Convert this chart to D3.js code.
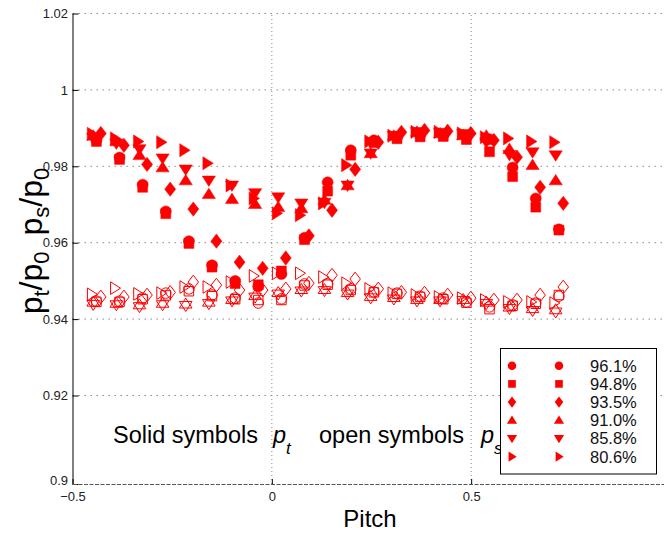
<!DOCTYPE html>
<html>
<head>
<meta charset="utf-8">
<script src="https://cdn.jsdelivr.net/npm/d3@7"></script>
<style>
  html, body { margin: 0; padding: 0; background: #fff; }
  svg { display: block; font-family: "Liberation Sans", Arial, Helvetica, sans-serif; }
</style>
</head>
<body>
<svg id="chart" width="664" height="536"></svg>
<script>
// Measurement stations along the pitch
const pitch = [-0.44, -0.382, -0.324, -0.266, -0.208, -0.15, -0.092, -0.034, 0.024, 0.082,
               0.14, 0.198, 0.256, 0.314, 0.372, 0.43, 0.488, 0.546, 0.604, 0.662, 0.72];

// Operating points (legend) and their marker shapes
const speeds = ["96.1%", "94.8%", "93.5%", "91.0%", "85.8%", "80.6%"];
const shapes = ["circle", "square", "diamond", "triangle-up", "triangle-down", "triangle-right"];
// small pitch offset of each traverse
const pitchShift = [0, 0, 0.011, -0.008, -0.008, -0.012];

// Total pressure ratio p_t/p_0 (solid symbols)
const ptCircle   = [0.9868, 0.9823, 0.9752, 0.9682, 0.9604, 0.9541, 0.9500, 0.9486, 0.9518, 0.9613, 0.9758,
                    0.9842, 0.9868, 0.9876, 0.9881, 0.9881, 0.9876, 0.9871, 0.9797, 0.9716, 0.9635];
const ptSquare   = [0.9865, 0.9818, 0.9745, 0.9676, 0.9598, 0.9536, 0.9493, 0.9490, 0.9526, 0.9608, 0.9735,
                    0.9829, 0.9862, 0.9872, 0.9877, 0.9878, 0.9870, 0.9838, 0.9773, 0.9693, 0.9633];
const ptDiamond  = [0.9886, 0.9855, 0.9805, 0.9740, 0.9688, 0.9604, 0.9549, 0.9533, 0.9560, 0.9618, 0.9685,
                    0.9792, 0.9863, 0.9889, 0.9894, 0.9892, 0.9886, 0.9868, 0.9824, 0.9745, 0.9703];
const ptUp       = [0.9880, 0.9865, 0.9829, 0.9797, 0.9763, 0.9727, 0.9714, 0.9701, 0.9693, 0.9690, 0.9712,
                    0.9750, 0.9834, 0.9880, 0.9890, 0.9886, 0.9881, 0.9880, 0.9845, 0.9803, 0.9763];
const ptDown     = [0.9875, 0.9860, 0.9845, 0.9821, 0.9792, 0.9763, 0.9750, 0.9730, 0.9719, 0.9703, 0.9705,
                    0.9750, 0.9834, 0.9880, 0.9890, 0.9888, 0.9885, 0.9863, 0.9830, 0.9837, 0.9829];
const ptRight    = [0.9885, 0.9873, 0.9865, 0.9863, 0.9842, 0.9808, 0.9750, 0.9716, 0.9677, 0.9672, 0.9703,
                    0.9803, 0.9865, 0.9880, 0.9890, 0.9890, 0.9886, 0.9876, 0.9873, 0.9865, 0.9863];

// Static pressure ratio p_s/p_0 (open symbols)
const psCircle   = [0.9447, 0.9447, 0.9455, 0.9468, 0.9479, 0.9463, 0.9455, 0.9442, 0.9453, 0.9492, 0.9492,
                    0.9479, 0.9471, 0.9468, 0.9460, 0.9455, 0.9445, 0.9432, 0.9437, 0.9442, 0.9460];
const psSquare   = [0.9445, 0.9445, 0.9452, 0.9462, 0.9473, 0.9460, 0.9452, 0.9450, 0.9450, 0.9488, 0.9490,
                    0.9476, 0.9470, 0.9466, 0.9458, 0.9452, 0.9443, 0.9426, 0.9435, 0.9440, 0.9463];
const psDiamond  = [0.9458, 0.9458, 0.9463, 0.9470, 0.9497, 0.9489, 0.9476, 0.9476, 0.9479, 0.9494, 0.9515,
                    0.9505, 0.9479, 0.9470, 0.9468, 0.9463, 0.9455, 0.9450, 0.9450, 0.9463, 0.9484];
const psUp       = [0.9445, 0.9442, 0.9438, 0.9442, 0.9440, 0.9445, 0.9452, 0.9462, 0.9470, 0.9478, 0.9478,
                    0.9470, 0.9460, 0.9457, 0.9452, 0.9452, 0.9452, 0.9445, 0.9432, 0.9428, 0.9425];
const psDown     = [0.9438, 0.9437, 0.9432, 0.9437, 0.9435, 0.9440, 0.9447, 0.9457, 0.9465, 0.9473, 0.9474,
                    0.9465, 0.9455, 0.9452, 0.9447, 0.9447, 0.9448, 0.9440, 0.9427, 0.9422, 0.9418];
const psRight    = [0.9465, 0.9481, 0.9466, 0.9468, 0.9484, 0.9484, 0.9497, 0.9513, 0.9520, 0.9520, 0.9510,
                    0.9494, 0.9479, 0.9468, 0.9463, 0.9458, 0.9455, 0.9450, 0.9445, 0.9445, 0.9442];

const xTicks = [-0.5, 0, 0.5];
const yTicks = [0.9, 0.92, 0.94, 0.96, 0.98, 1, 1.02];

const ptSeries = [ptCircle, ptSquare, ptDiamond, ptUp, ptDown, ptRight];
const psSeries = [psCircle, psSquare, psDiamond, psUp, psDown, psRight];

const RED = "#ff0000";
const svg = d3.select("#chart");

const x = d3.scaleLinear().domain([-0.5, 1]).range([72.5, 670.5]);
const y = d3.scaleLinear().domain([0.9, 0.92, 1.02]).range([484, 395.5, 13.5]);

// marker outlines, k scales the size
function shapePath(shape, k) {
  switch (shape) {
    case "circle": {
      const r = 5 * k;
      return `M${r},0A${r},${r} 0 1,1 ${-r},0A${r},${r} 0 1,1 ${r},0Z`;
    }
    case "square": {
      const h = 4.5 * k;
      return `M${-h},${-h}H${h}V${h}H${-h}Z`;
    }
    case "diamond": {
      const w = 5 * k, h = 6.5 * k;
      return `M0,${-h}L${w},0L0,${h}L${-w},0Z`;
    }
    case "triangle-up":
      return `M0,${-5.5 * k}L${6 * k},${4 * k}L${-6 * k},${4 * k}Z`;
    case "triangle-down":
      return `M0,${5.5 * k}L${6 * k},${-4 * k}L${-6 * k},${-4 * k}Z`;
    case "triangle-right":
      return `M${5.5 * k},0L${-4 * k},${6 * k}L${-4 * k},${-6 * k}Z`;
  }
}

// grid
const grid = svg.append("g");
grid.selectAll("line.h").data(yTicks.filter(v => v > 0.9)).join("line")
  .attr("x1", x(-0.5)).attr("x2", 664)
  .attr("y1", d => y(d)).attr("y2", d => y(d))
  .attr("stroke", "#8a8a8a").attr("stroke-width", 1).attr("stroke-dasharray", "1.5,4.5");
grid.selectAll("line.v").data(xTicks.filter(v => v > -0.5)).join("line")
  .attr("x1", d => x(d)).attr("x2", d => x(d))
  .attr("y1", y(0.9)).attr("y2", y(1.02))
  .attr("stroke", "#8a8a8a").attr("stroke-width", 1).attr("stroke-dasharray", "1,3");

// axes
const fmt = d => String(+d.toFixed(2));
const yAxis = svg.append("g").attr("transform", `translate(${x(-0.5)},0)`)
  .call(d3.axisLeft(y).tickValues(yTicks).tickFormat(fmt).tickSize(-6).tickSizeOuter(0).tickPadding(4.5));
yAxis.selectAll("text").attr("font-size", 13).attr("fill", "#222").attr("font-family", null);
// lift the bottom label a little so it clears the pitch labels
yAxis.selectAll(".tick text").filter(d => d === 0.9).attr("dy", "0.05em");
yAxis.select(".domain").attr("stroke", "#000");
yAxis.selectAll(".tick line").attr("stroke", "#000");

const xAxis = svg.append("g").attr("transform", `translate(0,${y(0.9)})`)
  .call(d3.axisBottom(x).tickValues(xTicks).tickFormat(d3.format("")).tickSize(-5).tickSizeOuter(0).tickPadding(8));
xAxis.selectAll("text").attr("font-size", 13).attr("fill", "#222").attr("font-family", null);
xAxis.select(".domain").attr("stroke", "#555").attr("stroke-dasharray", "4,1.5");
xAxis.selectAll(".tick line").attr("stroke", "#000");

// data markers
const marks = svg.append("g");
ptSeries.forEach((vals, s) => {
  marks.append("g").selectAll("path").data(vals).join("path")
    .attr("d", shapePath(shapes[s], 1.1))
    .attr("transform", (v, i) => `translate(${x(pitch[i] + pitchShift[s])},${y(v)})`)
    .attr("fill", RED).attr("stroke", RED).attr("stroke-width", 0.5);
});
psSeries.forEach((vals, s) => {
  marks.append("g").selectAll("path").data(vals).join("path")
    .attr("d", shapePath(shapes[s], 1.05))
    .attr("transform", (v, i) => `translate(${x(pitch[i] + pitchShift[s])},${y(v)})`)
    .attr("fill", "none").attr("stroke", RED).attr("stroke-width", 1);
});

// annotation
const note = svg.append("text").attr("y", 443).attr("font-size", 23.5).attr("fill", "#000");
note.append("tspan").attr("x", 113).text("Solid symbols");
note.append("tspan").attr("x", 273).attr("font-style", "italic").text("p");
note.append("tspan").attr("font-style", "italic").attr("font-size", 17).attr("dy", 11).text("t");
note.append("tspan").attr("x", 319).attr("dy", -11).text("open symbols");
note.append("tspan").attr("x", 481).attr("font-style", "italic").text("p");
note.append("tspan").attr("font-style", "italic").attr("font-size", 17).attr("dy", 11).text("s");

// axis titles
svg.append("text").attr("x", 370).attr("y", 527).attr("text-anchor", "middle")
  .attr("font-size", 24).attr("fill", "#000").text("Pitch");

const yl = svg.append("text").attr("transform", "translate(42,241) rotate(-90)")
  .attr("text-anchor", "middle").attr("font-size", 32).attr("fill", "#000");
yl.append("tspan").text("p");
yl.append("tspan").attr("font-size", 22).attr("dy", 7).text("t");
yl.append("tspan").attr("dy", -7).text("/p");
yl.append("tspan").attr("font-size", 22).attr("dy", 7).text("0");
yl.append("tspan").attr("dy", -7).text("\u2002p");
yl.append("tspan").attr("font-size", 22).attr("dy", 7).text("s");
yl.append("tspan").attr("dy", -7).text("/p");
yl.append("tspan").attr("font-size", 22).attr("dy", 7).text("0");

// legend
const legend = svg.append("g");
legend.append("rect").attr("x", 500.5).attr("y", 348.5).attr("width", 156).attr("height", 125.5)
  .attr("fill", "#fff").attr("stroke", "#000").attr("stroke-width", 1);
const rows = legend.selectAll("g.row").data(speeds).join("g")
  .attr("transform", (d, i) => `translate(0,${365.7 + i * 18.2})`);
rows.append("path").attr("d", (d, i) => shapePath(shapes[i], 0.85))
  .attr("transform", "translate(512,0)").attr("fill", RED);
rows.append("path").attr("d", (d, i) => shapePath(shapes[i], 0.85))
  .attr("transform", "translate(559,0)").attr("fill", RED);
rows.append("text").attr("x", 590).attr("dy", "0.36em").attr("font-size", 16.5)
  .attr("fill", "#111").text(d => d);
</script>
</body>
</html>
